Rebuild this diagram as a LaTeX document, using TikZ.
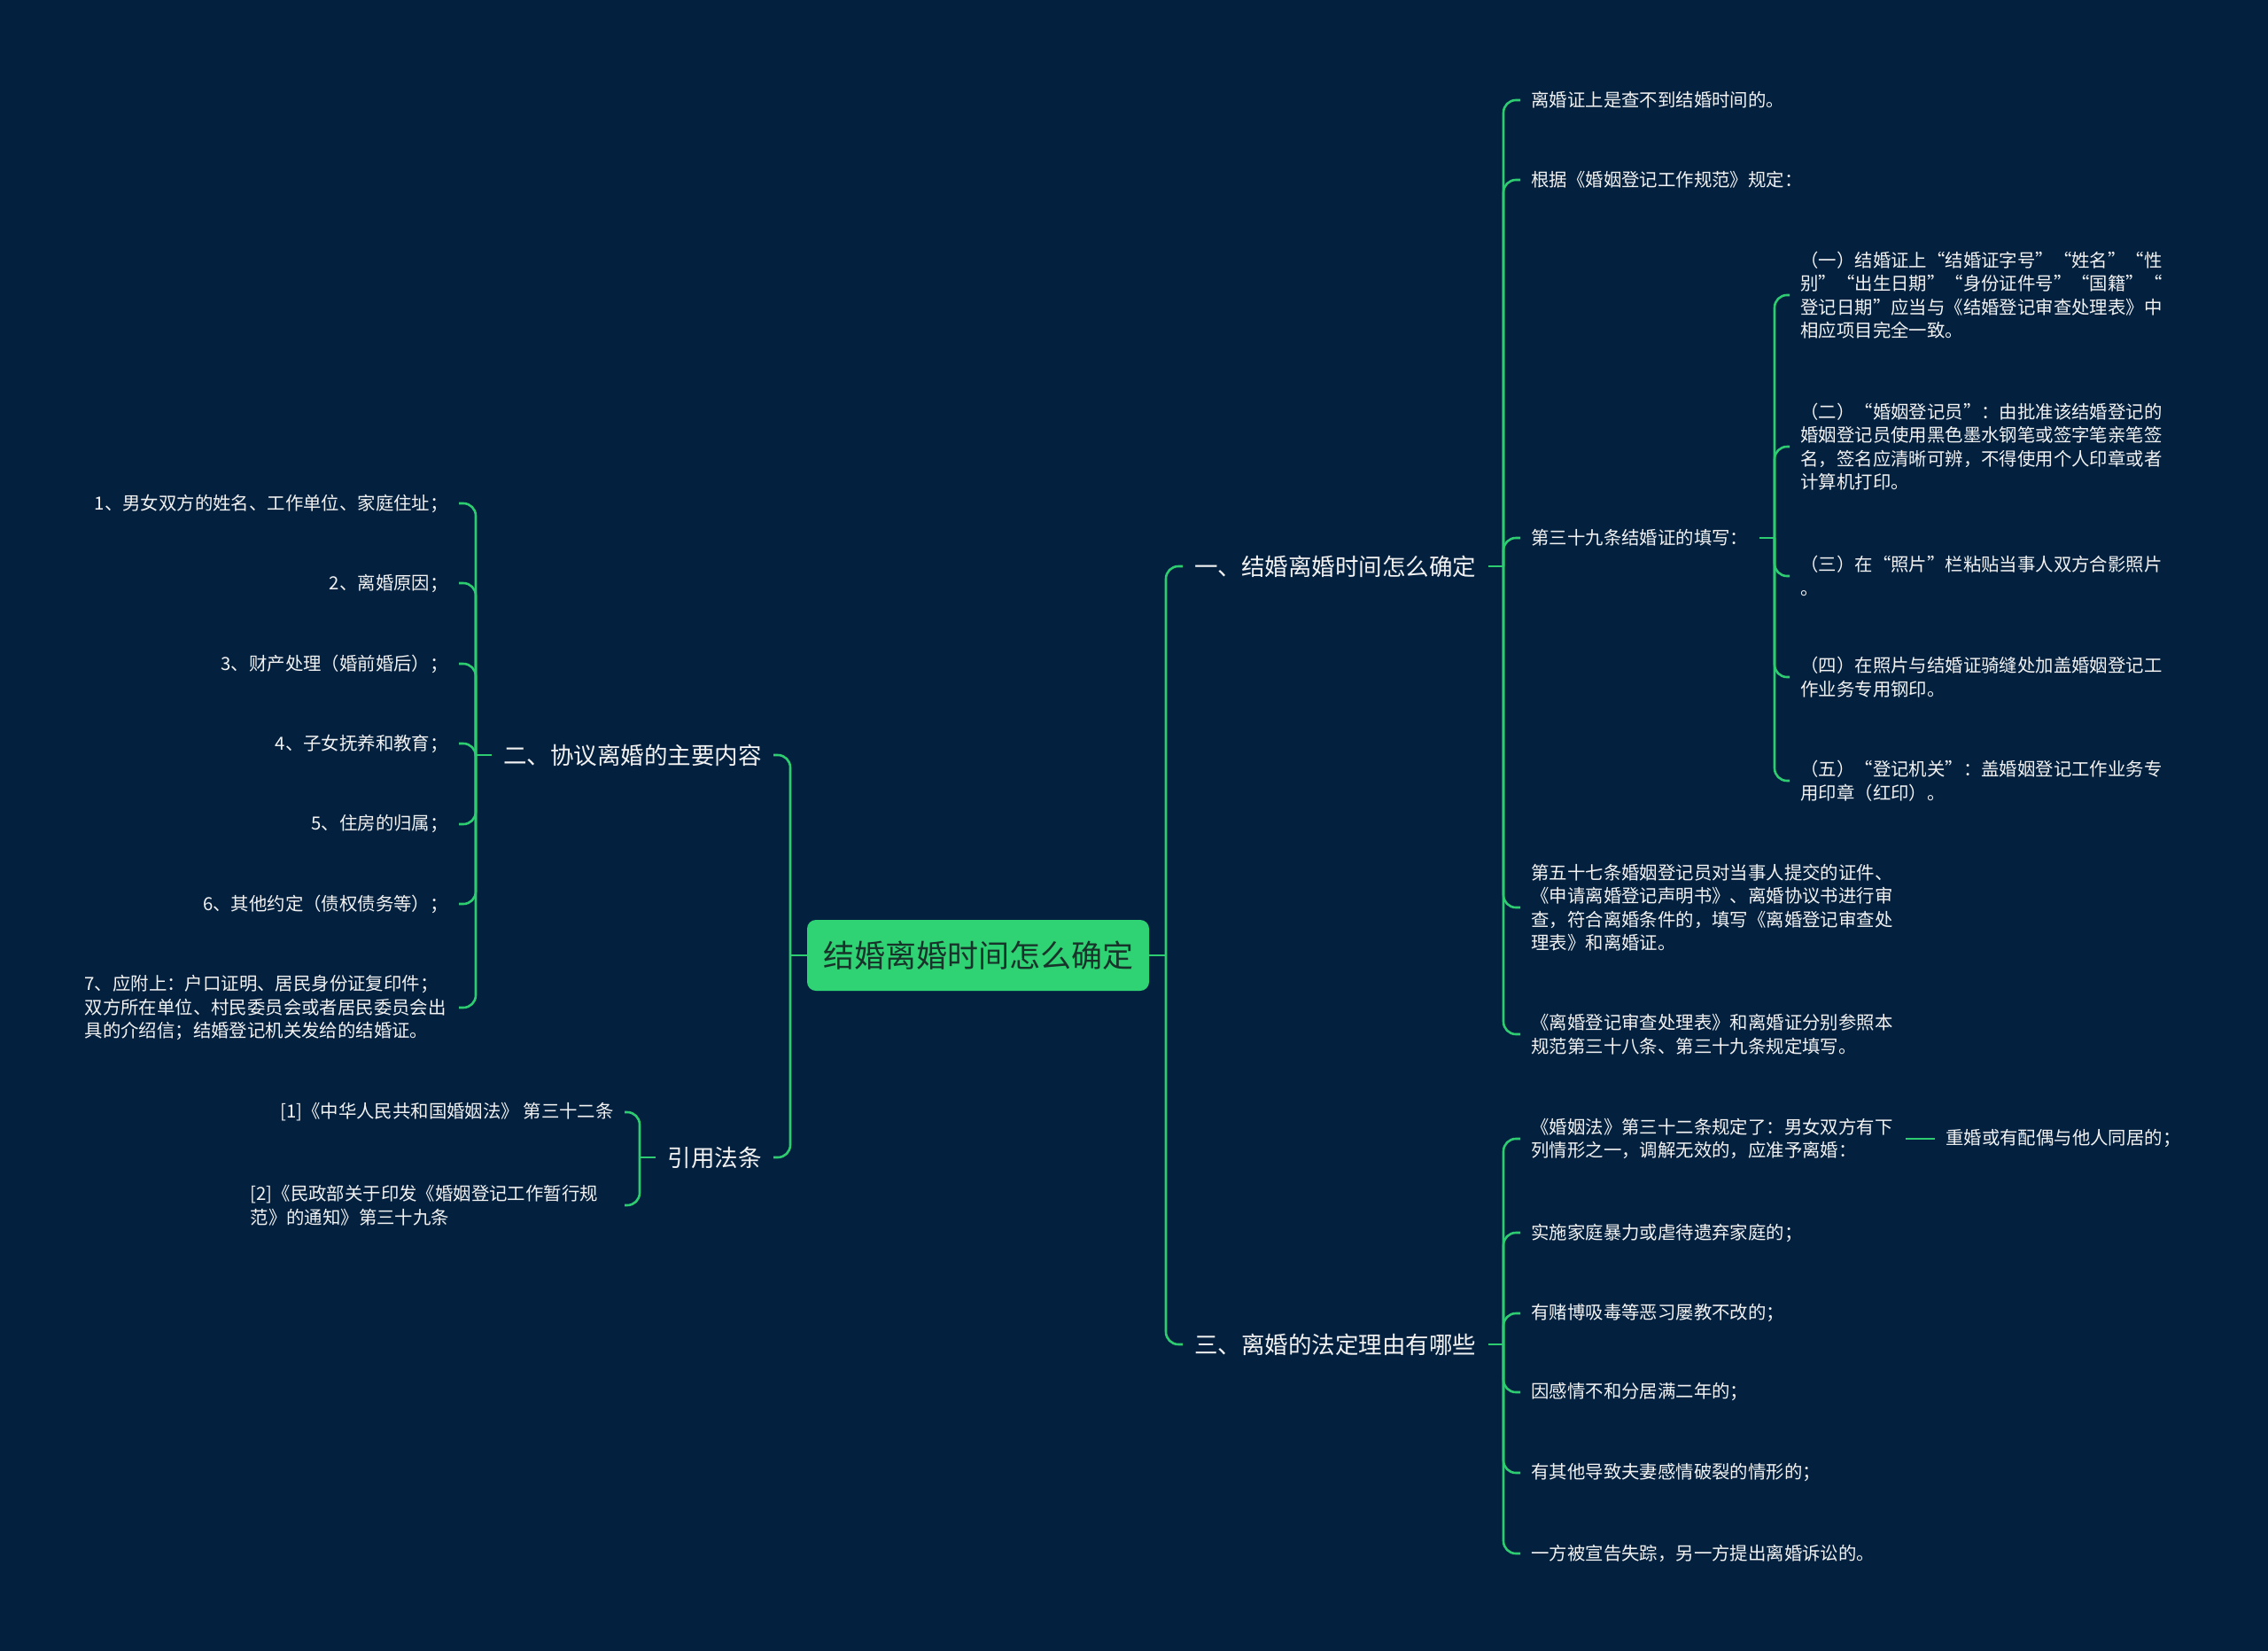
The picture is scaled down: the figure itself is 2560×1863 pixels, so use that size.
\documentclass[tikz,border=0pt]{standalone}
\usepackage{fontspec}
\setmainfont{Noto Sans CJK SC}
\usetikzlibrary{positioning}
\definecolor{pagebg}{HTML}{03213F}
\definecolor{branchgreen}{HTML}{2ECC71}
\definecolor{rootfill}{HTML}{30D374}
\definecolor{rootink}{HTML}{17332A}
\definecolor{leafink}{HTML}{F2F2F2}

\begin{document}
\begin{tikzpicture}[
    x=0.5pt, y=-0.5pt,
    root/.style={fill=rootfill, text=rootink, rounded corners=5pt,
                 minimum width=193pt, minimum height=40pt,
                 font=\fontsize{17.5}{21}\selectfont},
    topic/.style={text=leafink, inner xsep=6.5pt,
                 font=\fontsize{13.25}{16}\selectfont},
    leaf/.style={text=leafink, inner xsep=6pt, align=left,
                 font=\fontsize{10.2}{13.25}\selectfont},
    para/.style={leaf, text width=205pt},
    link/.style={draw=branchgreen, line width=1.3pt, rounded corners=7pt}
]
  \fill[pagebg] (0,0) rectangle (2560,1863);

  % centre
  \node[root] (root) at (1104,1078) {结婚离婚时间怎么确定};
  \coordinate (rtrunk) at (1316,1078);
  \coordinate (ltrunk) at (892,1078);

  % main topics
  \node[topic, anchor=west] (t1) at (1335,639) {一、结婚离婚时间怎么确定};
  \node[topic, anchor=west] (t3) at (1335,1517) {三、离婚的法定理由有哪些};
  \node[topic, anchor=east] (t2) at (873,852) {二、协议离婚的主要内容};
  \node[topic, anchor=east] (tref) at (873,1306) {引用法条};

  \coordinate (j1) at (1697,639);
  \coordinate (j3) at (1697,1517);
  \coordinate (j2) at (537,852);
  \coordinate (jref) at (722,1306);

  % 一
  \node[leaf, anchor=west] (a1) at (1716,113) {离婚证上是查不到结婚时间的。};
  \node[leaf, anchor=west] (a2) at (1716,203) {根据《婚姻登记工作规范》规定：};
  \node[leaf, anchor=west] (a3) at (1716,607) {第三十九条结婚证的填写：};
  \node[para, anchor=west] (a4) at (1716,1024) {第五十七条婚姻登记员对当事人提交的证件、\\《申请离婚登记声明书》、离婚协议书进行审\\查，符合离婚条件的，填写《离婚登记审查处\\理表》和离婚证。};
  \node[para, anchor=west] (a5) at (1716,1167) {《离婚登记审查处理表》和离婚证分别参照本\\规范第三十八条、第三十九条规定填写。};

  \coordinate (j39) at (2003,607);
  \node[para, anchor=west] (b1) at (2020,333) {（一）结婚证上“结婚证字号”“姓名”“性\\别”“出生日期”“身份证件号”“国籍”“\\登记日期”应当与《结婚登记审查处理表》中\\相应项目完全一致。};
  \node[para, anchor=west] (b2) at (2020,504) {（二）“婚姻登记员”：由批准该结婚登记的\\婚姻登记员使用黑色墨水钢笔或签字笔亲笔签\\名，签名应清晰可辨，不得使用个人印章或者\\计算机打印。};
  \node[para, anchor=west] (b3) at (2020,650) {（三）在“照片”栏粘贴当事人双方合影照片\\。};
  \node[para, anchor=west] (b4) at (2020,764) {（四）在照片与结婚证骑缝处加盖婚姻登记工\\作业务专用钢印。};
  \node[para, anchor=west] (b5) at (2020,881) {（五）“登记机关”：盖婚姻登记工作业务专\\用印章（红印）。};

  % 三
  \node[para, anchor=west] (c1) at (1716,1285) {《婚姻法》第三十二条规定了：男女双方有下\\列情形之一，调解无效的，应准予离婚：};
  \node[leaf, right=16.5pt of c1] (d1) {重婚或有配偶与他人同居的；};
  \node[leaf, anchor=west] (c2) at (1716,1391) {实施家庭暴力或虐待遗弃家庭的；};
  \node[leaf, anchor=west] (c3) at (1716,1482) {有赌博吸毒等恶习屡教不改的；};
  \node[leaf, anchor=west] (c4) at (1716,1571) {因感情不和分居满二年的；};
  \node[leaf, anchor=west] (c5) at (1716,1662) {有其他导致夫妻感情破裂的情形的；};
  \node[leaf, anchor=west] (c6) at (1716,1753) {一方被宣告失踪，另一方提出离婚诉讼的。};

  % 二
  \node[leaf, anchor=east] (e1) at (518,568) {1、男女双方的姓名、工作单位、家庭住址；};
  \node[leaf, anchor=east] (e2) at (518,658) {2、离婚原因；};
  \node[leaf, anchor=east] (e3) at (518,749) {3、财产处理（婚前婚后）；};
  \node[leaf, anchor=east] (e4) at (518,839) {4、子女抚养和教育；};
  \node[leaf, anchor=east] (e5) at (518,930) {5、住房的归属；};
  \node[leaf, anchor=east] (e6) at (518,1020) {6、其他约定（债权债务等）；};
  \node[para, anchor=east] (e7) at (518,1137) {7、应附上：户口证明、居民身份证复印件；\\双方所在单位、村民委员会或者居民委员会出\\具的介绍信；结婚登记机关发给的结婚证。};

  % 引用法条
  \node[leaf, anchor=east] (f1) at (705,1255) {[1]《中华人民共和国婚姻法》 第三十二条};
  \node[para, anchor=east] (f2) at (705,1360) {[2]《民政部关于印发《婚姻登记工作暂行规\\范》的通知》第三十九条};

  % connectors
  \draw[link] (root.east) -- (rtrunk);
  \draw[link] (root.west) -- (ltrunk);
  \draw[link] (rtrunk) |- (t1.west);
  \draw[link] (rtrunk) |- (t3.west);
  \draw[link] (ltrunk) |- (t2.east);
  \draw[link] (ltrunk) |- (tref.east);

  \draw[link] (t1.east) -- (j1);
  \foreach \n in {a1,a2,a3,a4,a5}
    \draw[link] (j1) |- (\n.west);
  \draw[link] (a3.east) -- (j39);
  \foreach \n in {b1,b2,b3,b4,b5}
    \draw[link] (j39) |- (\n.west);

  \draw[link] (t3.east) -- (j3);
  \foreach \n in {c1,c2,c3,c4,c5,c6}
    \draw[link] (j3) |- (\n.west);
  \draw[link] (c1.east) -- (d1.west);

  \draw[link] (t2.west) -- (j2);
  \foreach \n in {e1,e2,e3,e4,e5,e6,e7}
    \draw[link] (j2) |- (\n.east);

  \draw[link] (tref.west) -- (jref);
  \foreach \n in {f1,f2}
    \draw[link] (jref) |- (\n.east);
\end{tikzpicture}
\end{document}
